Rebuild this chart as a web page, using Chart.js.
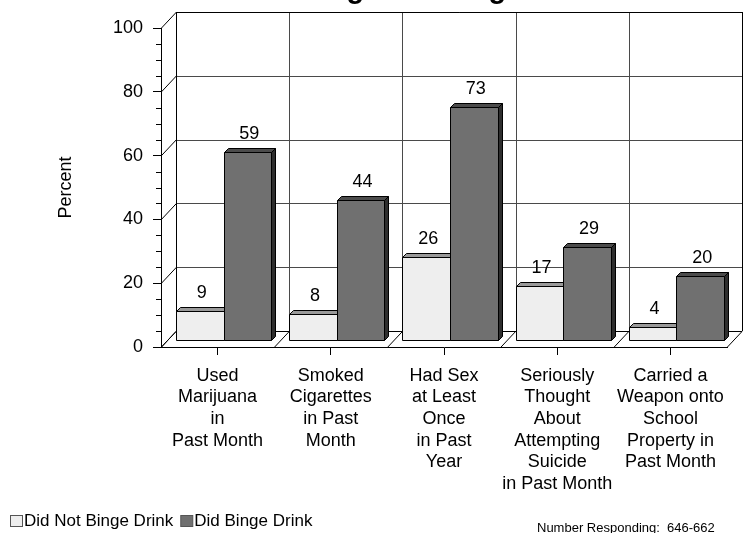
<!DOCTYPE html>
<html>
<head>
<meta charset="utf-8">
<script src="https://cdn.jsdelivr.net/npm/chart.js@4.4.1/dist/chart.umd.min.js"></script>
<style>
  html, body { margin: 0; padding: 0; background: #ffffff; }
  #wrap { width: 744px; height: 533px; }
</style>
</head>
<body>
<div id="wrap"><canvas id="chart" width="744" height="533"></canvas></div>
<script>
// ---- data ----
const categories = [
  ['Used', 'Marijuana', 'in', 'Past Month'],
  ['Smoked', 'Cigarettes', 'in Past', 'Month'],
  ['Had Sex', 'at Least', 'Once', 'in Past', 'Year'],
  ['Seriously', 'Thought', 'About', 'Attempting', 'Suicide', 'in Past Month'],
  ['Carried a', 'Weapon onto', 'School', 'Property in', 'Past Month']
];
const didNotBinge = [9, 8, 26, 17, 4];
const didBinge = [59, 44, 73, 29, 20];
const seriesNames = ['Did Not Binge Drink', 'Did Binge Drink'];
const yTicks = [0, 20, 40, 60, 80, 100];
const titleText = 'Binge Drinking';
const footnote = 'Number Responding:  646-662';

// ---- styling ----
const FONT = '"Liberation Sans", Arial, sans-serif';
const WALL_DX = 15, WALL_DY = -16;   // depth of the back wall
const BAR_DX = 6, BAR_DY = -7;       // bars stand mid-way on the floor
const BAR_DEPTH = 4;                  // thickness of each bar
const palette = [
  { front: '#eeeeee', top: '#9a9a9a', side: '#bdbdbd' },
  { front: '#707070', top: '#4c4c4c', side: '#2e2e2e' }
];
const GRID = '#4a4a4a';

const crisp = v => Math.round(v) + 0.5;

function line(ctx, x1, y1, x2, y2) {
  ctx.beginPath();
  ctx.moveTo(x1, y1);
  ctx.lineTo(x2, y2);
  ctx.stroke();
}

function poly(ctx, pts, fill) {
  ctx.beginPath();
  ctx.moveTo(pts[0][0], pts[0][1]);
  for (let i = 1; i < pts.length; i++) ctx.lineTo(pts[i][0], pts[i][1]);
  ctx.closePath();
  ctx.fillStyle = fill;
  ctx.fill();
  ctx.stroke();
}

// back wall, side wall and floor, then the 3-D bars
const box3d = {
  id: 'box3d',
  beforeDatasetsDraw(chart) {
    const { ctx, scales: { x, y } } = chart;
    const n = categories.length;
    const L = x.getPixelForValue(-0.5);
    const R = x.getPixelForValue(n - 0.5);
    const y0 = y.getPixelForValue(0);
    const yMax = y.getPixelForValue(yTicks[yTicks.length - 1]);

    ctx.save();
    ctx.lineWidth = 1;
    ctx.strokeStyle = GRID;

    // horizontal lines on the back wall + diagonals on the side wall
    yTicks.forEach(v => {
      const py = y.getPixelForValue(v);
      if (v > 0) line(ctx, L + WALL_DX, crisp(py + WALL_DY), R + WALL_DX, crisp(py + WALL_DY));
      ctx.strokeStyle = '#000';
      line(ctx, crisp(L), py, crisp(L + WALL_DX), py + WALL_DY);
      ctx.strokeStyle = GRID;
    });

    // category boundaries: verticals on the wall, diagonals on the floor
    for (let k = 0; k <= n; k++) {
      const bx = x.getPixelForValue(k - 0.5);
      ctx.strokeStyle = (k === 0 || k === n) ? '#000' : GRID;
      line(ctx, crisp(bx + WALL_DX), yMax + WALL_DY, crisp(bx + WALL_DX), y0 + WALL_DY);
      ctx.strokeStyle = '#000';
      line(ctx, bx, crisp(y0), bx + WALL_DX, crisp(y0 + WALL_DY));
    }
    ctx.strokeStyle = '#000';
    // top edge of the back wall and back edge of the floor
    line(ctx, L + WALL_DX, crisp(yMax + WALL_DY), R + WALL_DX + 1, crisp(yMax + WALL_DY));
    line(ctx, L + WALL_DX, crisp(y0 + WALL_DY), R + WALL_DX, crisp(y0 + WALL_DY));

    // bars: per category, first series then second so the darker bar overlaps
    const metas = [chart.getDatasetMeta(0), chart.getDatasetMeta(1)];
    for (let i = 0; i < n; i++) {
      metas.forEach((meta, d) => {
        const el = meta.data[i];
        const p = el.getProps(['x', 'y', 'base', 'width'], true);
        const l = Math.round(p.x - p.width / 2 + BAR_DX) + 0.5;
        const r = Math.round(p.x + p.width / 2 + BAR_DX) + 0.5;
        const t = Math.round(p.y + BAR_DY) + 0.5;
        const b = Math.round(p.base + BAR_DY) + 0.5;
        const c = palette[d];
        ctx.strokeStyle = '#000';
        poly(ctx, [[l, t], [l + BAR_DEPTH, t - BAR_DEPTH], [r + BAR_DEPTH, t - BAR_DEPTH], [r, t]], c.top);
        poly(ctx, [[r, t], [r + BAR_DEPTH, t - BAR_DEPTH], [r + BAR_DEPTH, b - BAR_DEPTH], [r, b]], c.side);
        poly(ctx, [[l, t], [r, t], [r, b], [l, b]], c.front);
      });
    }
    ctx.restore();
  },
  beforeDatasetDraw() {
    return false; // bars are painted above in 3-D
  },
  afterDatasetsDraw(chart) {
    const { ctx } = chart;
    ctx.save();
    ctx.font = '18px ' + FONT;
    ctx.fillStyle = '#000';
    ctx.textAlign = 'center';
    ctx.textBaseline = 'middle';
    chart.data.datasets.forEach((ds, d) => {
      chart.getDatasetMeta(d).data.forEach((el, i) => {
        const p = el.getProps(['x', 'y'], true);
        ctx.fillText(String(ds.data[i]), p.x + BAR_DX + 2, p.y + BAR_DY - 18);
      });
    });
    ctx.restore();
  },
  afterDraw(chart) {
    const { ctx, scales: { y } } = chart;
    ctx.save();
    // minor ticks on the value axis
    ctx.strokeStyle = '#000';
    ctx.lineWidth = 1;
    const ax = chart.chartArea.left;
    for (let v = 5; v < 100; v += 5) {
      if (v % 20 === 0) continue;
      const py = crisp(y.getPixelForValue(v));
      line(ctx, ax - 5, py, ax, py);
    }

    // title
    ctx.fillStyle = '#000';
    ctx.font = 'bold 29px ' + FONT;
    ctx.textAlign = 'center';
    ctx.textBaseline = 'alphabetic';
    ctx.fillText(titleText, 403, -2);

    // legend
    ctx.font = '17px ' + FONT;
    ctx.textAlign = 'left';
    ctx.textBaseline = 'middle';
    let lx = 10;
    const ly = 521;
    seriesNames.forEach((name, d) => {
      ctx.fillStyle = palette[d].front;
      ctx.strokeStyle = '#555';
      ctx.fillRect(lx + 0.5, ly - 5.5, 12, 11);
      ctx.strokeRect(lx + 0.5, ly - 5.5, 12, 11);
      ctx.fillStyle = '#000';
      ctx.fillText(name, lx + 14, ly);
      lx += 14 + ctx.measureText(name).width + 7;
    });

    // respondents note
    ctx.font = '13px ' + FONT;
    ctx.fillText(footnote, 537, 528);
    ctx.restore();
  }
};

new Chart(document.getElementById('chart'), {
  type: 'bar',
  data: {
    labels: categories,
    datasets: [
      { label: seriesNames[0], data: didNotBinge, backgroundColor: palette[0].front },
      { label: seriesNames[1], data: didBinge, backgroundColor: palette[1].front }
    ]
  },
  options: {
    responsive: false,
    animation: false,
    devicePixelRatio: 1,
    layout: { padding: { top: 28, right: 17, left: 0, bottom: 0 } },
    datasets: { bar: { categoryPercentage: 0.84, barPercentage: 1.0 } },
    plugins: {
      legend: { display: false },
      title: { display: false },
      tooltip: { enabled: false }
    },
    scales: {
      x: {
        grid: { offset: false, drawOnChartArea: false, drawTicks: true, tickLength: 8, color: '#000' },
        border: { display: true, color: '#000' },
        ticks: {
          color: '#000', padding: 10, maxRotation: 0, autoSkip: false,
          font: { family: FONT, size: 18, lineHeight: 1.2 }
        },
        afterFit(scale) { scale.height = 533 - 347; }
      },
      y: {
        min: 0, max: 100,
        ticks: {
          stepSize: 20, color: '#000', padding: 10,
          font: { family: FONT, size: 18 }
        },
        grid: { drawOnChartArea: false, drawTicks: true, tickLength: 8, color: '#000' },
        border: { display: true, color: '#000' },
        title: {
          display: true, text: 'Percent', color: '#000',
          font: { family: FONT, size: 18 },
          padding: { top: 55, bottom: 0 }
        },
        afterFit(scale) { scale.width = 161; }
      }
    }
  },
  plugins: [box3d]
});
</script>
</body>
</html>
